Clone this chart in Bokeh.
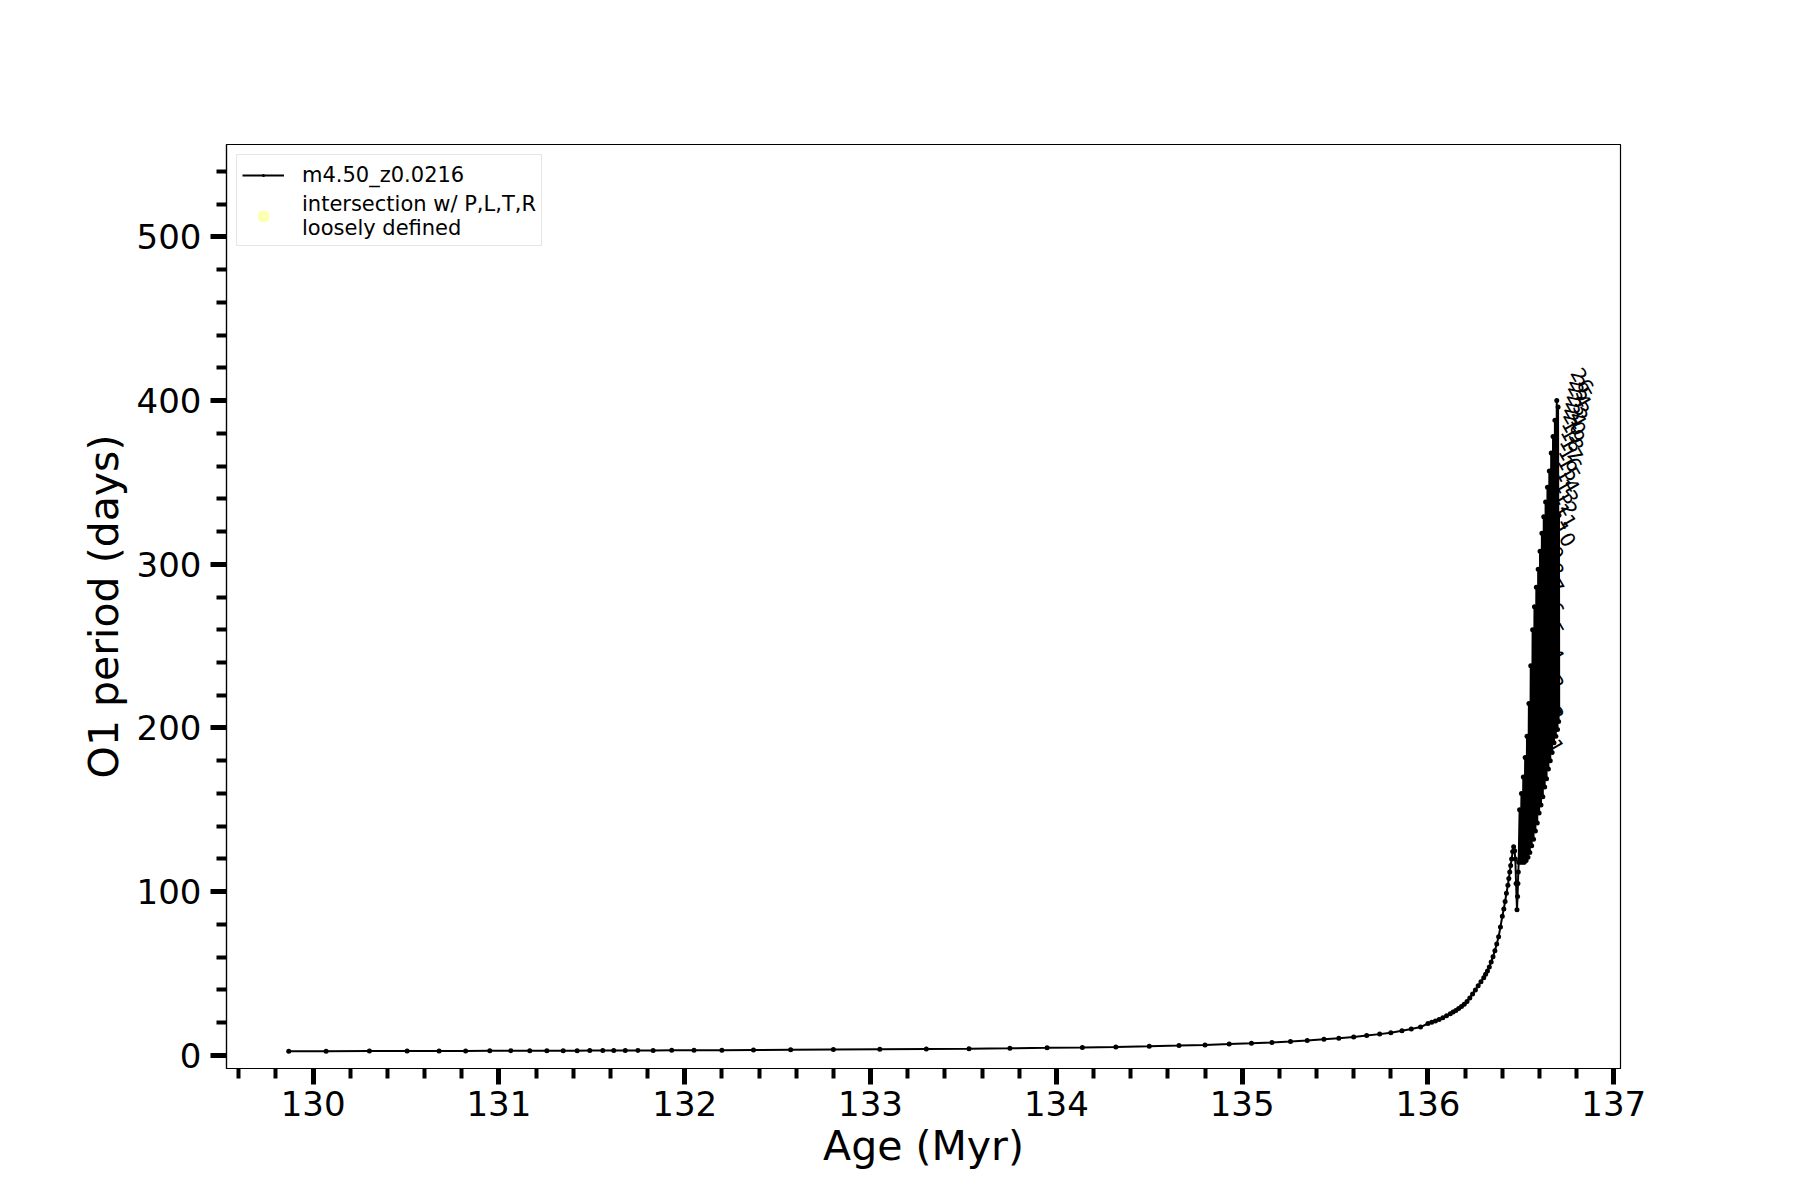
from bokeh.plotting import figure
from bokeh.models import ColumnDataSource, Legend, LegendItem, SingleIntervalTicker, Range1d
from bokeh.core.properties import value
from bokeh.embed import file_html
from bokeh.resources import INLINE

# ---- data: smooth pre-pulse track (Age in Myr, O1 period in days)
age_track = [129.869, 130.070, 130.303, 130.506, 130.678, 130.821, 130.951, 131.064, 131.166,
             131.258, 131.346, 131.421, 131.489, 131.559, 131.618, 131.680, 131.748, 131.83,
             131.93, 132.05, 132.20, 132.37, 132.57, 132.80, 133.05, 133.30, 133.53, 133.75,
             133.95, 134.14, 134.32, 134.50, 134.66, 134.80, 134.93, 135.05, 135.16, 135.26,
             135.35, 135.44, 135.52, 135.60, 135.67, 135.74, 135.80, 135.86, 135.91, 135.96,
             136.00, 136.02, 136.04, 136.06, 136.08, 136.10, 136.12, 136.135, 136.15, 136.165,
             136.18, 136.195, 136.21, 136.225, 136.24, 136.255, 136.27, 136.285, 136.30, 136.31,
             136.32, 136.33, 136.34, 136.35, 136.36, 136.37, 136.38, 136.39, 136.40, 136.408,
             136.415, 136.422, 136.43, 136.435, 136.44, 136.445, 136.45, 136.456, 136.461,
             136.466, 136.47, 136.474, 136.479, 136.482, 136.484, 136.486, 136.488]
period_track = [2.6, 2.6, 2.65, 2.7, 2.7, 2.75, 2.8, 2.8, 2.85,
                2.85, 2.9, 2.9, 2.95, 2.95, 3.0, 3.0, 3.0, 3.05,
                3.1, 3.15, 3.2, 3.3, 3.4, 3.55, 3.7, 3.9, 4.1, 4.35,
                4.6, 4.9, 5.2, 5.6, 6.0, 6.4, 6.9, 7.4, 7.9, 8.5,
                9.1, 9.8, 10.5, 11.3, 12.1, 13.0, 13.9, 15.0, 16.1, 17.3,
                19.5, 20.2, 21.0, 22.0, 23.0, 24.2, 25.5, 26.5, 27.5, 28.6,
                29.8, 31.3, 33.0, 35.1, 37.5, 39.9, 42.5, 45.0, 47.5, 49.5,
                51.5, 54.0, 57.0, 60.3, 64.0, 68.0, 72.5, 78.5, 85.0, 89.5,
                94.0, 99.0, 104.0, 108.0, 112.0, 116.0, 120.0, 124.5, 127.5,
                125.0, 120.0, 105.0, 89.0, 97.0, 105.0, 112.0, 118.0]

# ---- data: thermal-pulse oscillations
age_pulses = [136.493, 136.498, 136.503, 136.508, 136.513, 136.518, 136.523, 136.528,
              136.533, 136.538, 136.543, 136.548, 136.553, 136.558, 136.563, 136.568,
              136.573, 136.578, 136.583, 136.588, 136.593, 136.598, 136.603, 136.608,
              136.613, 136.618, 136.623, 136.628, 136.633, 136.638, 136.643, 136.648,
              136.653, 136.658, 136.663, 136.668, 136.673, 136.678, 136.683, 136.688,
              136.693, 136.697, 136.700, 136.703, 136.705, 136.706]
period_pulses = [150, 118, 160, 118, 170, 118, 182, 119,
                 195, 121, 215, 124, 238, 128, 260, 132,
                 274, 137, 286, 142, 297, 148, 308, 153,
                 319, 158, 329, 164, 338, 169, 347, 175,
                 357, 180, 368, 185, 378, 191, 388, 195,
                 400, 199, 396, 204, 330, 210]

# ---- data: pulse number labels
label_text = [str(i) for i in range(1, 27)]
label_age = [136.671, 136.671, 136.671, 136.671, 136.671, 136.671, 136.671, 136.671, 136.671,
             136.700, 136.704, 136.709, 136.714, 136.719, 136.725, 136.731, 136.737, 136.743,
             136.749, 136.755, 136.761, 136.767, 136.774, 136.781, 136.788, 136.795]
label_period = [192, 212, 231, 248, 263, 276, 290, 300, 310,
                325, 336, 344, 351, 358, 365, 371, 377, 383,
                388, 393, 397, 401, 405, 410, 414, 419]

x_ticks_interval = 1
y_ticks_interval = 100

FONT = "DejaVu Sans"

ages = age_track + age_pulses
periods = period_track + period_pulses
src = ColumnDataSource(dict(age=ages, period=periods))

p = figure(frame_width=1394, frame_height=924,
           x_range=Range1d(129.534, 137.036), y_range=Range1d(-8.0, 556.4),
           output_backend="svg", toolbar_location=None,
           min_border_left=226, min_border_top=144, min_border_right=164, min_border_bottom=124)

p.background_fill_color = "white"
p.border_fill_color = "white"
p.outline_line_color = "black"
p.outline_line_width = 1.2
p.xgrid.visible = False
p.ygrid.visible = False

line_r = p.line("age", "period", source=src, line_color="black", line_width=2)
dot_r = p.scatter("age", "period", source=src, marker="dot", size=20, color="black")

p.text(x=label_age, y=label_period, text=label_text, angle=-60, angle_units="deg",
       text_font=value(FONT), text_font_size="20px", text_color="black",
       text_align="left", text_baseline="alphabetic")

ghost = p.scatter(x=[float("nan")], y=[float("nan")], size=14,
                  fill_color="yellow", fill_alpha=0.3, line_alpha=0)

for ax, interval in ((p.xaxis[0], x_ticks_interval), (p.yaxis[0], y_ticks_interval)):
    ax.ticker = SingleIntervalTicker(interval=interval, num_minor_ticks=5)
    ax.major_tick_in = 0
    ax.minor_tick_in = 0
    ax.major_tick_out = 16
    ax.minor_tick_out = 10
    ax.major_tick_line_width = 5
    ax.minor_tick_line_width = 4
    ax.major_tick_line_color = "black"
    ax.minor_tick_line_color = "black"
    ax.axis_line_color = "black"
    ax.axis_line_width = 1.2
    ax.major_label_text_font = FONT
    ax.major_label_text_font_size = "34px"
    ax.major_label_text_color = "black"
    ax.axis_label_text_font = FONT
    ax.axis_label_text_font_size = "41px"
    ax.axis_label_text_font_style = "normal"
    ax.axis_label_text_color = "black"

p.xaxis.axis_label = "Age (Myr)"
p.yaxis.axis_label = "O1 period (days)"
p.xaxis.major_label_standoff = 6
p.yaxis.major_label_standoff = 9
p.xaxis.axis_label_standoff = 3
p.yaxis.axis_label_standoff = 6

legend = Legend(items=[
    LegendItem(label="m4.50_z0.0216", renderers=[line_r, dot_r]),
    LegendItem(label="intersection w/ P,L,T,R\nloosely defined", renderers=[ghost]),
], location="top_left")
legend.margin = 10
legend.padding = 5
legend.spacing = 2
legend.glyph_width = 42
legend.glyph_height = 30
legend.label_standoff = 18
legend.label_text_font = FONT
legend.label_text_font_size = "21px"
legend.label_text_color = "black"
legend.label_text_line_height = 1.1
legend.border_line_color = "#cccccc"
legend.border_line_width = 1
legend.background_fill_alpha = 0.8
p.add_layout(legend)

open("out.html", "w").write(file_html(p, INLINE))
